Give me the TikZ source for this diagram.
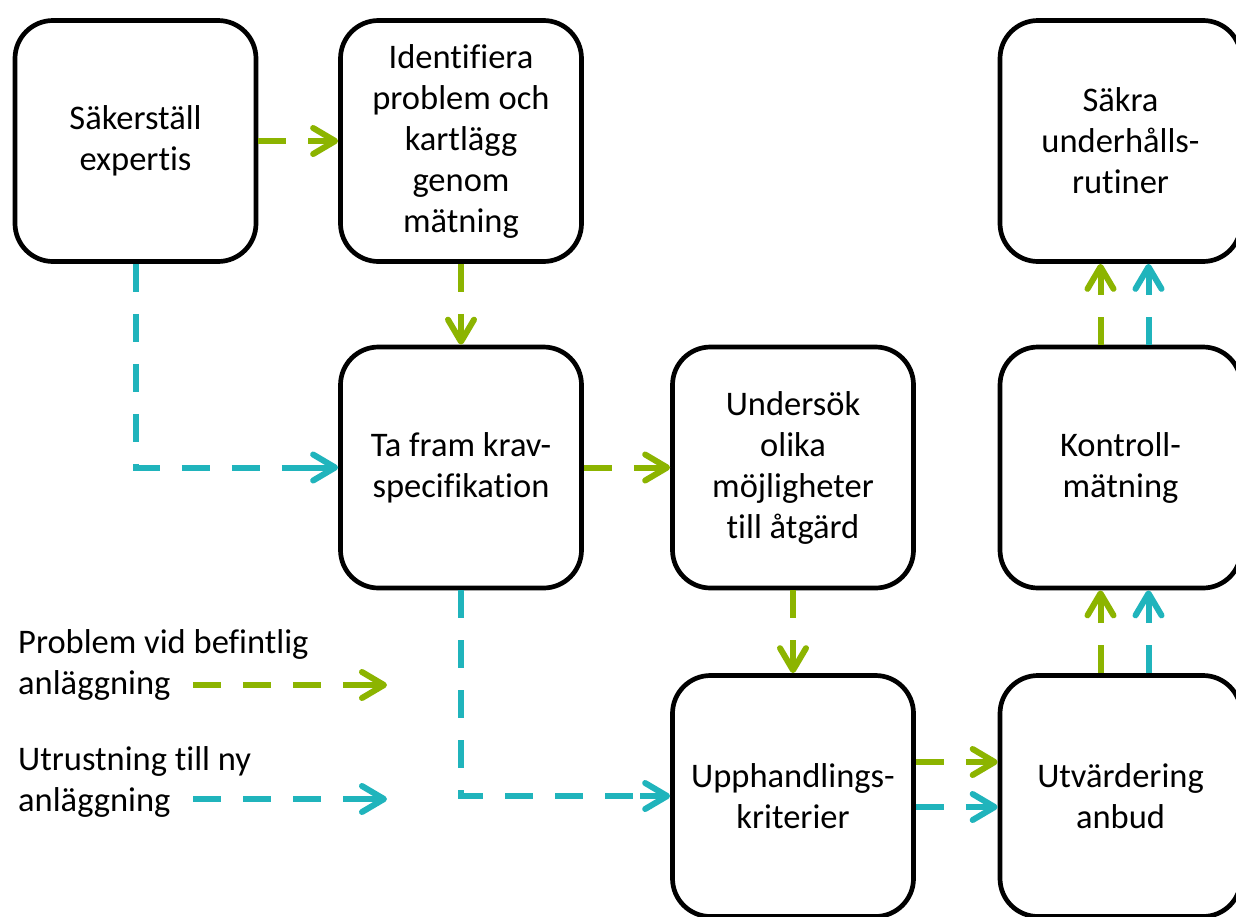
\documentclass[tikz,border=0pt]{standalone}
\usepackage{fontspec}
\setmainfont{Carlito}[Ligatures=CommonOff]
\usetikzlibrary{arrows.meta,calc}
\definecolor{cgreen}{RGB}{140,180,0}
\definecolor{cteal}{RGB}{32,180,188}
\begin{document}
\begin{tikzpicture}[x=1pt,y=-1pt,
 box/.style={draw=black, line width=4.7pt, rounded corners=38pt, minimum width=241pt, minimum height=241pt, align=center, font=\fontsize{34.5}{41}\selectfont, inner sep=0pt},
 dline/.style={line width=6pt, dash pattern=on 28pt off 22pt, shorten >=30pt},
 tipline/.style={line width=6pt, -{Straight Barb[length=22pt,width=26pt,round]}},
 lbl/.style={align=left, font=\fontsize{34.5}{41}\selectfont, inner sep=0pt}]
\useasboundingbox (0,0) rectangle (1236,916);
\clip (0,0) rectangle (1236,916);
\fill[white] (0,0) rectangle (1236,916);

\node[box] (A) at (135.5,141) {Säkerställ\\expertis};
\node[box] (B) at (461,141) {Identifiera\\problem och\\kartlägg\\genom\\mätning};
\node[box] (C) at (1120.5,141) {Säkra\\underhålls-\\rutiner};
\node[box] (D) at (461,467.5) {Ta fram krav-\\specifikation};
\node[box] (E) at (793,467.5) {Undersök\\olika\\möjligheter\\till åtgärd};
\node[box] (F) at (1120.5,467.5) {Kontroll-\\mätning};
\node[box] (G) at (793,796) {Upphandlings-\\kriterier};
\node[box] (H) at (1120.5,796) {Utvärdering\\anbud};

% A -> B
\draw[dline,cgreen] (A.east) -- (B.west);
\draw[tipline,cgreen] ($(B.west)+(-30,0)$) -- (B.west);
% B -> D
\draw[dline,cgreen] (B.south) -- (D.north);
\draw[tipline,cgreen] ($(D.north)+(0,-30)$) -- (D.north);
% A -> D
\draw[dline,cteal] (A.south) |- (D.west);
\draw[tipline,cteal] ($(D.west)+(-30,0)$) -- (D.west);
% D -> E
\draw[dline,cgreen] (D.east) -- (E.west);
\draw[tipline,cgreen] ($(E.west)+(-30,0)$) -- (E.west);
% E -> G
\draw[dline,cgreen] (E.south) -- (G.north);
\draw[tipline,cgreen] ($(G.north)+(0,-30)$) -- (G.north);
% D -> G
\draw[dline,cteal] (D.south) |- (G.west);
\draw[tipline,cteal] ($(G.west)+(-30,0)$) -- (G.west);
% G -> H
\draw[dline,cgreen] ([yshift=34pt]G.east) -- ([yshift=34pt]H.west);
\draw[tipline,cgreen] ($([yshift=34pt]H.west)+(-30,0)$) -- ([yshift=34pt]H.west);
\draw[dline,cteal] ([yshift=-11pt]G.east) -- ([yshift=-11pt]H.west);
\draw[tipline,cteal] ($([yshift=-11pt]H.west)+(-30,0)$) -- ([yshift=-11pt]H.west);
% H -> F
\draw[dline,cgreen] ([xshift=-20pt]H.north) -- ([xshift=-20pt]F.south);
\draw[tipline,cgreen] ($([xshift=-20pt]F.south)+(0,30)$) -- ([xshift=-20pt]F.south);
\draw[dline,cteal] ([xshift=28pt]H.north) -- ([xshift=28pt]F.south);
\draw[tipline,cteal] ($([xshift=28pt]F.south)+(0,30)$) -- ([xshift=28pt]F.south);
% F -> C
\draw[dline,cgreen] ([xshift=-20pt]F.north) -- ([xshift=-20pt]C.south);
\draw[tipline,cgreen] ($([xshift=-20pt]C.south)+(0,30)$) -- ([xshift=-20pt]C.south);
\draw[dline,cteal] ([xshift=28pt]F.north) -- ([xshift=28pt]C.south);
\draw[tipline,cteal] ($([xshift=28pt]C.south)+(0,30)$) -- ([xshift=28pt]C.south);

% legend
\node[lbl, anchor=north west] (L1) at (18,629) {Problem vid befintlig\\anläggning};
\node[lbl, anchor=north west] (L2) at (18,746) {Utrustning till ny\\anläggning};
\coordinate (g1) at (193,685);
\coordinate (g2) at (387,685);
\coordinate (t1) at (193,799);
\coordinate (t2) at (387,799);
\draw[dline,cgreen] (g1) -- (g2);
\draw[tipline,cgreen] ($(g2)+(-30,0)$) -- (g2);
\draw[dline,cteal] (t1) -- (t2);
\draw[tipline,cteal] ($(t2)+(-30,0)$) -- (t2);
\end{tikzpicture}
\end{document}
